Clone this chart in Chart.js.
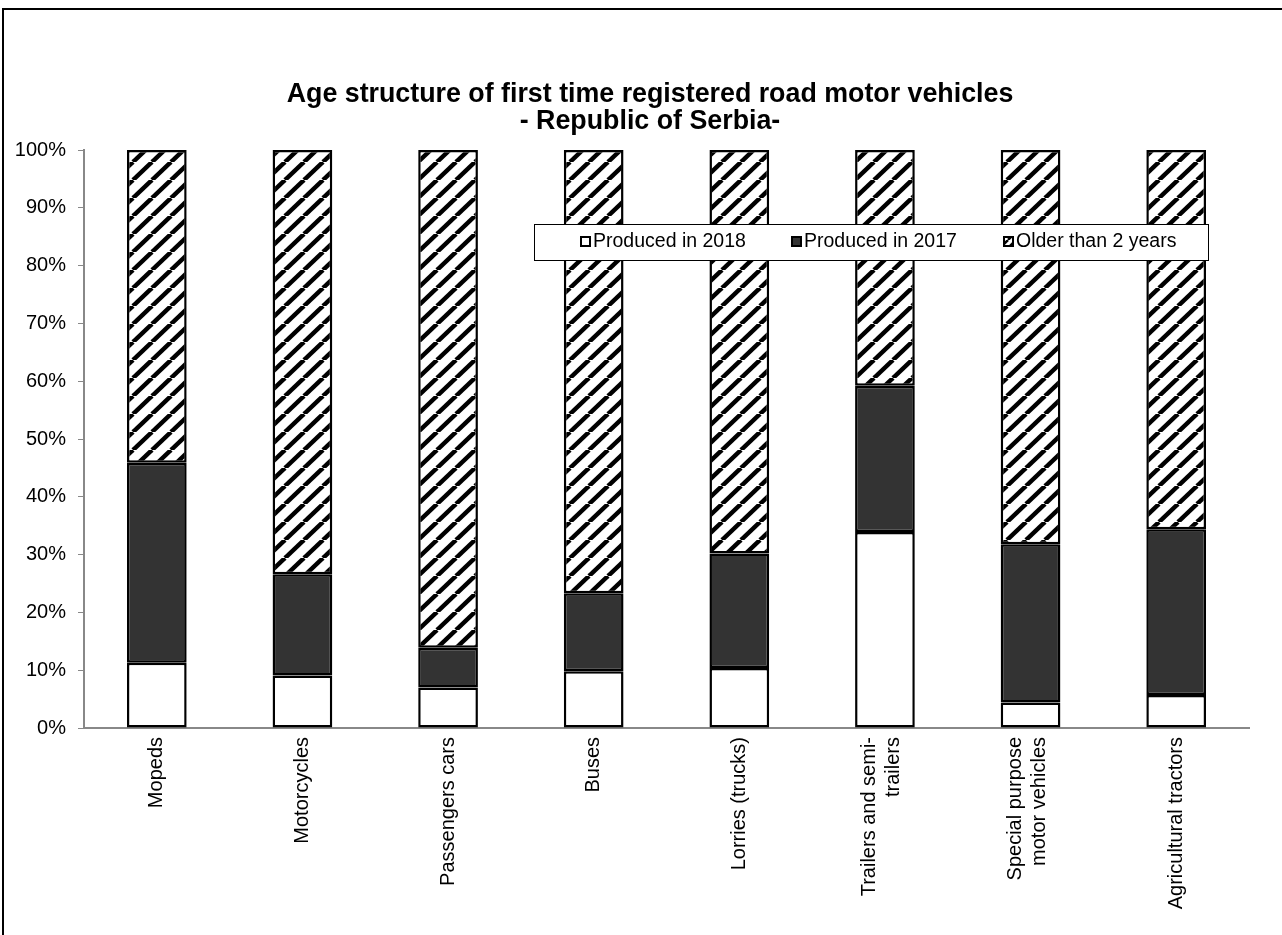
<!DOCTYPE html>
<html><head><meta charset="utf-8">
<script src="https://cdn.jsdelivr.net/npm/chart.js@4.4.1/dist/chart.umd.min.js"></script>
<style>html,body{margin:0;padding:0;background:#fff;}#wrap{width:1282px;height:935px;position:relative;}</style>
</head><body><div id="wrap"><canvas id="c" width="1282" height="935"></canvas></div>
<script>
const categories = ['Mopeds', 'Motorcycles', 'Passengers cars', 'Buses', 'Lorries (trucks)', ['Trailers and semi-', 'trailers'], ['Special purpose', 'motor vehicles'], 'Agricultural tractors'];
const produced2018 = [11.3, 9.1, 7.0, 9.8, 10.4, 33.9, 4.4, 5.7];
const produced2017 = [34.6, 17.5, 6.9, 13.5, 19.8, 25.3, 27.4, 28.7];
const olderThan2 = [54.1, 73.4, 86.1, 76.7, 69.8, 40.8, 68.2, 65.6];
const titleLines = ['Age structure of first time registered road motor vehicles', '- Republic of Serbia-'];
const seriesNames = ['Produced in 2018', 'Produced in 2017', 'Older than 2 years'];

const FONT = '"Liberation Sans", Arial, sans-serif';
const canvas = document.getElementById('c');
const ctx = canvas.getContext('2d');

function makeHatch(W, H, lw) {
  const t = document.createElement('canvas');
  t.width = W; t.height = H;
  const g = t.getContext('2d');
  g.fillStyle = '#fff'; g.fillRect(0, 0, W, H);
  g.strokeStyle = '#000'; g.lineWidth = lw;
  for (const dx of [-W, 0, W]) {
    g.beginPath(); g.moveTo(dx, H); g.lineTo(dx + W, 0); g.stroke();
  }
  return ctx.createPattern(t, 'repeat');
}
const hatch = makeHatch(19, 18, 4.5);
const smallHatch = makeHatch(8, 8, 2.5);

const centerMultiLine = {
  id: 'centerMultiLine',
  beforeDraw(chart) {
    const s = chart.scales.x;
    const items = s.getLabelItems(chart.chartArea);
    items.forEach(it => {
      if (Array.isArray(it.label) && !it._shifted) {
        it.options.translation[0] -= 15;
        it._shifted = true;
      }
    });
  }
};

const frameTitleLegend = {
  id: 'frameTitleLegend',
  afterDraw(chart) {
    const c = chart.ctx;
    c.save();
    c.strokeStyle = '#000'; c.lineWidth = 2;
    c.beginPath(); c.moveTo(3, 935); c.lineTo(3, 9); c.lineTo(1282, 9); c.stroke();
    c.fillStyle = '#000';
    c.font = 'bold 26.8px ' + FONT;
    c.textAlign = 'center'; c.textBaseline = 'middle';
    c.fillText(titleLines[0], 650, 95);
    c.fillText(titleLines[1], 650, 122);
    const bx = 534, by = 224, bw = 674, bh = 36;
    c.fillStyle = '#fff'; c.fillRect(bx, by, bw, bh);
    c.strokeStyle = '#000'; c.lineWidth = 1;
    c.strokeRect(bx + 0.5, by + 0.5, bw, bh);
    const items = [
      {x: 581, fill: '#ffffff'},
      {x: 792, fill: '#333333'},
      {x: 1004, fill: smallHatch}
    ];
    c.font = '19.5px ' + FONT;
    c.textAlign = 'left';
    items.forEach((it, i) => {
      const ds = chart.data.datasets[i];
      c.fillStyle = it.fill;
      c.fillRect(it.x, 237, 9, 9);
      c.strokeStyle = '#000'; c.lineWidth = 2;
      c.strokeRect(it.x, 237, 9, 9);
      c.fillStyle = '#000';
      c.fillText(ds.label, it.x + 12, 242);
    });
    c.restore();
  }
};

new Chart(canvas, {
  type: 'bar',
  data: {
    labels: categories,
    datasets: [
      {label: seriesNames[0], data: produced2018, backgroundColor: '#ffffff', borderColor: '#000', borderWidth: 2.5, borderSkipped: false, inflateAmount: 0},
      {label: seriesNames[1], data: produced2017, backgroundColor: '#333333', borderColor: '#000', borderWidth: 2.5, borderSkipped: false, inflateAmount: 0},
      {label: seriesNames[2], data: olderThan2, backgroundColor: hatch, borderColor: '#000', borderWidth: 2.5, borderSkipped: false, inflateAmount: 0}
    ]
  },
  options: {
    responsive: false,
    animation: false,
    devicePixelRatio: 1,
    categoryPercentage: 1,
    barPercentage: 0.41,
    layout: {padding: {top: 150, right: 33, left: 0, bottom: 0}},
    plugins: {legend: {display: false}, title: {display: false}, tooltip: {enabled: false}},
    scales: {
      x: {
        stacked: true,
        grid: {display: false},
        border: {display: true, color: '#888888', width: 2},
        ticks: {color: '#000', font: {family: FONT, size: 20}, maxRotation: 90, minRotation: 90, padding: 1, autoSkip: false},
        afterFit(s) { s.height = 207; }
      },
      y: {
        stacked: true,
        min: 0, max: 100,
        grid: {drawOnChartArea: false, drawTicks: true, tickLength: 6, color: '#888888', lineWidth: 1},
        border: {display: true, color: '#888888', width: 2},
        ticks: {stepSize: 10, color: '#000', font: {family: FONT, size: 20}, padding: 12, callback: v => v + '%'},
        afterFit(s) { s.width = 84; }
      }
    }
  },
  plugins: [centerMultiLine, frameTitleLegend]
});
</script>
</body></html>
